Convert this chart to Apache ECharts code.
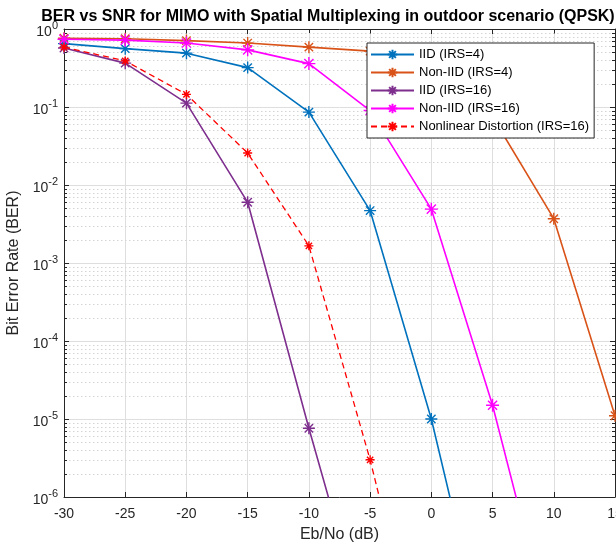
<!DOCTYPE html>
<html>
<head>
<meta charset="utf-8">
<script src="https://cdn.jsdelivr.net/npm/echarts@6/dist/echarts.min.js"></script>
<style>
    html, body { margin: 0; padding: 0; background: #fff; }
    #ber-chart { width: 616px; height: 548px; }
</style>
</head>
<body>
<div id="ber-chart"></div>
<script>
(function (w) {
    "use strict";
    var FONT = 'Liberation Sans, Arial, Helvetica, sans-serif';
    var TXT = '#262626';

    // Eb/No in dB
    var snr = [-30, -25, -20, -15, -10, -5, 0, 5, 10, 15];
    var xTicks = [-30, -25, -20, -15, -10, -5, 0, 5, 10, 15];
    var yDecades = [1e-6, 1e-5, 1e-4, 1e-3, 1e-2, 1e-1, 1];

    // BER (points past 1e-6 only show as lines leaving the axes)
    var iidIrs4 = [0.65, 0.56, 0.49, 0.32, 0.086, 4.7e-3, 1.0e-5, 5e-9];
    var nonIidIrs4 = [0.76, 0.75, 0.71, 0.66, 0.585, 0.52, 0.3, 0.075, 3.7e-3, 1.1e-5];
    var iidIrs16 = [0.57, 0.365, 0.112, 6.0e-3, 7.6e-6, 1.3e-8];
    var nonIidIrs16 = [0.74, 0.72, 0.66, 0.54, 0.36, 0.09, 4.9e-3, 1.5e-5, 1.3e-8];
    var nonlinear = [0.585, 0.39, 0.145, 0.0257, 1.66e-3, 3.0e-6, 2e-9];

    var names = ['IID (IRS=4)', 'Non-IID (IRS=4)', 'IID (IRS=16)', 'Non-IID (IRS=16)', 'Nonlinear Distortion (IRS=16)'];
    var colors = ['#0072BD', '#D95319', '#7E2F8E', '#FF00FF', '#FF0000'];

    var STAR = 'path://M0,-10L0,10M-10,0L10,0M-7,-7L7,7M-7,7L7,-7';

    // minor positions 2..9 x 10^k for the dotted grid and small ticks
    var minorVals = [];
    for (var k = -6; k < 0; k++) {
        for (var m = 2; m <= 9; m++) {
            minorVals.push([snr[0], m * Math.pow(10, k)]);
        }
    }

    function pairs(ys) {
        return ys.map(function (v, i) { return [snr[i], v]; });
    }

    function lineSeries(idx, ys, size, dashed) {
        return {
            name: names[idx],
            type: 'line',
            data: pairs(ys),
            symbol: STAR,
            symbolSize: size,
            showSymbol: true,
            clip: true,
            z: 3 + idx,
            lineStyle: { color: colors[idx], width: dashed ? 1.3 : 1.6, type: dashed ? [6, 4] : 'solid' },
            itemStyle: { color: colors[idx], borderColor: colors[idx], borderWidth: 1.4 }
        };
    }

    var chart = echarts.init(document.getElementById('ber-chart'));
    var option = {
        animation: false,
        backgroundColor: '#fff',
        textStyle: { fontFamily: FONT },
        title: {
            text: 'BER vs SNR for MIMO with Spatial Multiplexing in outdoor scenario (QPSK)',
            left: 328,
            top: 9,
            padding: 0,
            textAlign: 'center',
            textStyle: { fontFamily: FONT, fontSize: 16, fontWeight: 'bold', color: '#000' }
        },
        legend: {
            data: names,
            orient: 'vertical',
            left: 367,
            top: 43,
            itemWidth: 43,
            itemHeight: 12,
            itemGap: 5,
            padding: [5, 5, 5, 3],
            borderColor: TXT,
            borderWidth: 1,
            backgroundColor: '#fff',
            z: 20,
            textStyle: { fontFamily: FONT, fontSize: 13, color: '#000' }
        },
        grid: { left: 64, right: 1, top: 29, bottom: 51, containLabel: false, outerBoundsMode: 'none' },
        xAxis: [
            {
                type: 'value',
                min: -30, max: 15, interval: 5,
                name: 'Eb/No (dB)',
                nameLocation: 'middle',
                nameGap: 30,
                nameTextStyle: { fontFamily: FONT, fontSize: 16, color: TXT },
                axisLine: { onZero: false, lineStyle: { color: TXT, width: 1 } },
                axisTick: { inside: true, length: 5, lineStyle: { color: TXT } },
                axisLabel: { fontFamily: FONT, fontSize: 14, color: TXT, margin: 10, hideOverlap: false,
                    formatter: function (v) { return xTicks.indexOf(v) >= 0 ? String(v) : ''; } },
                splitLine: { show: true, lineStyle: { color: '#dedede', width: 1 } }
            },
            {
                type: 'value', position: 'top',
                min: -30, max: 15, interval: 5,
                axisLine: { onZero: false, lineStyle: { color: TXT, width: 1 } },
                axisTick: { inside: true, length: 5, lineStyle: { color: TXT } },
                axisLabel: { show: false },
                splitLine: { show: false }
            }
        ],
        yAxis: [
            {
                type: 'log', logBase: 10,
                min: yDecades[0], max: yDecades[yDecades.length - 1],
                name: 'Bit Error Rate (BER)',
                nameLocation: 'middle',
                nameGap: 36,
                nameTextStyle: { fontFamily: FONT, fontSize: 16, color: TXT },
                axisLine: { show: true, onZero: false, lineStyle: { color: TXT, width: 1 } },
                axisTick: { inside: true, length: 5, lineStyle: { color: TXT } },
                axisLabel: {
                    margin: 6,
                    formatter: function (v) {
                        var e = Math.round(Math.log(v) / Math.LN10);
                        return '{b|10}{s|' + e + '}';
                    },
                    rich: {
                        b: { fontFamily: FONT, fontSize: 14, color: TXT, padding: [6, 0, 0, 0] },
                        s: { fontFamily: FONT, fontSize: 11, color: TXT, padding: [0, 0, 6, 0] }
                    }
                },
                splitLine: { show: true, lineStyle: { color: '#dedede', width: 1 } }
            },
            {
                type: 'log', logBase: 10, position: 'right',
                min: yDecades[0], max: yDecades[yDecades.length - 1],
                axisLine: { show: true, onZero: false, lineStyle: { color: TXT, width: 1 } },
                axisTick: { inside: true, length: 5, lineStyle: { color: TXT } },
                axisLabel: { show: false },
                splitLine: { show: false }
            }
        ],
        series: [
            {
                type: 'custom',
                silent: true,
                z: 1,
                data: minorVals,
                renderItem: function (params, api) {
                    var v = api.value(1);
                    var a = api.coord([snr[0], v]);
                    var b = api.coord([snr[snr.length - 1], v]);
                    var y = Math.round(a[1]) + 0.5;
                    return {
                        type: 'group',
                        children: [
                            { type: 'line', shape: { x1: a[0] + 1, y1: y, x2: b[0] - 1, y2: y },
                              style: { stroke: '#d4d4d4', lineWidth: 1, lineDash: [1.5, 2.5] } },
                            { type: 'line', shape: { x1: a[0], y1: y, x2: a[0] + 3, y2: y },
                              style: { stroke: TXT, lineWidth: 1 } },
                            { type: 'line', shape: { x1: b[0] - 3, y1: y, x2: b[0], y2: y },
                              style: { stroke: TXT, lineWidth: 1 } }
                        ]
                    };
                }
            },
            lineSeries(0, iidIrs4, 12, false),
            lineSeries(1, nonIidIrs4, 12, false),
            lineSeries(2, iidIrs16, 12, false),
            lineSeries(3, nonIidIrs16, 13, false),
            lineSeries(4, nonlinear, 9, true)
        ]
    };
    chart.setOption(option);

    w.addEventListener('resize', function () {
        chart.resize();
    });
})(window);
</script>
</body>
</html>
